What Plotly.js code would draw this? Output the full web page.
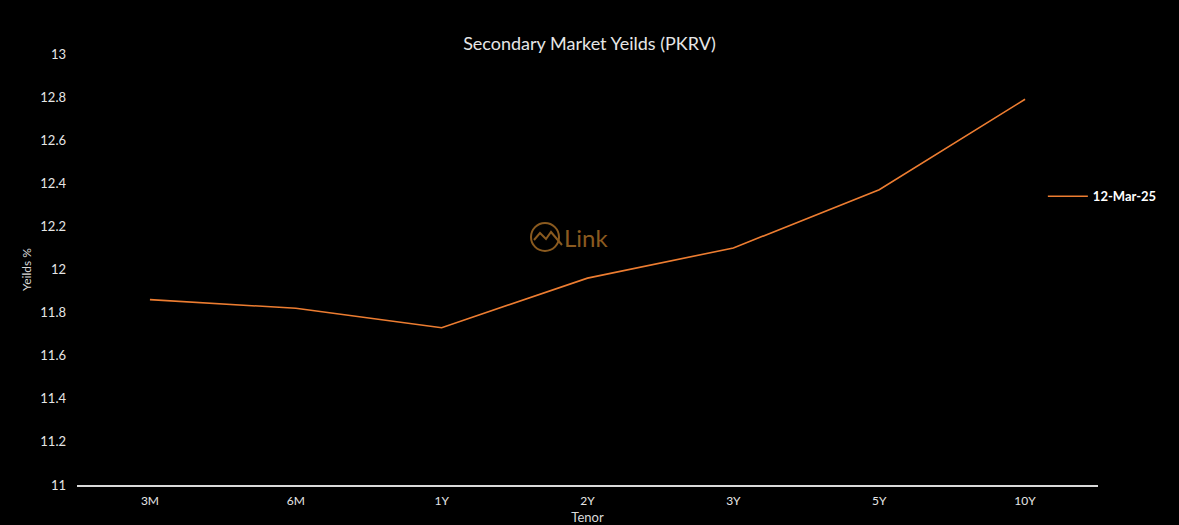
<!DOCTYPE html>
<html>
<head>
<meta charset="utf-8">
<script src="https://cdn.plot.ly/plotly-3.0.1.min.js"></script>
<style>html,body{margin:0;padding:0;background:#000;}#chart{width:1179px;height:525px;}</style>
</head>
<body>
<div id="chart"></div>
<script>
const tenors = ["3M", "6M", "1Y", "2Y", "3Y", "5Y", "10Y"];
const yields_12Mar25 = [11.86, 11.82, 11.73, 11.96, 12.10, 12.37, 12.79];
const yTicks = [11, 11.2, 11.4, 11.6, 11.8, 12, 12.2, 12.4, 12.6, 12.8, 13];
const yTickLabels = ["11", "11.2", "11.4", "11.6", "11.8", "12", "12.2", "12.4", "12.6", "12.8", "13"];

const FONT = "Lato, 'Open Sans', sans-serif";
const trace = {
  x: tenors, y: yields_12Mar25, type: "scatter", mode: "lines",
  name: "12-Mar-25",
  line: {color: "#ED7D31", width: 1.6}
};
const layout = {
  width: 1179, height: 525,
  paper_bgcolor: "#000", plot_bgcolor: "#000",
  margin: {l: 77, r: 81, t: 54, b: 40},
  font: {family: FONT, color: "#d9d9d9", size: 13},
  title: {text: "Secondary Market Yeilds (PKRV)", font: {family: FONT, size: 18, color: "#e6e6e6"}, x: 0.5, xanchor: "center", y: 0.917, yanchor: "middle"},
  xaxis: {
    type: "category", range: [-0.5, 6.5], showgrid: false, zeroline: false,
    showline: true, linecolor: "#d9d9d9", linewidth: 1.5, ticks: "",
    tickfont: {family: FONT, size: 12, color: "#e6e6e6"}, ticklabelstandoff: 4,
    title: {text: "Tenor", font: {family: FONT, size: 13, color: "#d9d9d9"}, standoff: 16}
  },
  yaxis: {
    range: [11, 13], tickvals: yTicks, ticktext: yTickLabels, showgrid: false, zeroline: false,
    showline: false, ticks: "", tickfont: {family: FONT, size: 13, color: "#e6e6e6"}, ticklabelstandoff: 10,
    title: {text: "Yeilds %", font: {family: FONT, size: 12, color: "#d9d9d9"}, standoff: 6}
  },
  showlegend: true,
  legend: {x: 0.946, y: 0.67, xanchor: "left", yanchor: "middle", bgcolor: "rgba(0,0,0,0)",
    font: {family: FONT, size: 13, color: "#ffffff", weight: "bold"}, itemwidth: 40},
  shapes: [
    {type: "circle", xref: "paper", yref: "paper",
     x0: (531-77)/1021, x1: (559-77)/1021, y0: (485-251)/431, y1: (485-223)/431,
     line: {color: "#8a5a1f", width: 2}},
    {type: "path", xref: "paper", yref: "paper",
     path: "M " + (534-77)/1021 + "," + (485-240)/431 + " L " + (540-77)/1021 + "," + (485-233)/431 +
           " L " + (546-77)/1021 + "," + (485-239)/431 + " L " + (551-77)/1021 + "," + (485-232)/431 +
           " L " + (562-77)/1021 + "," + (485-245)/431,
     line: {color: "#8a5a1f", width: 2}}
  ],
  annotations: [
    {text: "Link", xref: "paper", yref: "paper", x: (562-77)/1021, y: (485-237)/431,
     xanchor: "left", yanchor: "middle", showarrow: false,
     font: {family: FONT, size: 24, color: "#8a5a1f"}}
  ]
};
Plotly.newPlot("chart", [trace], layout, {displayModeBar: false, staticPlot: true});
</script>
</body>
</html>
